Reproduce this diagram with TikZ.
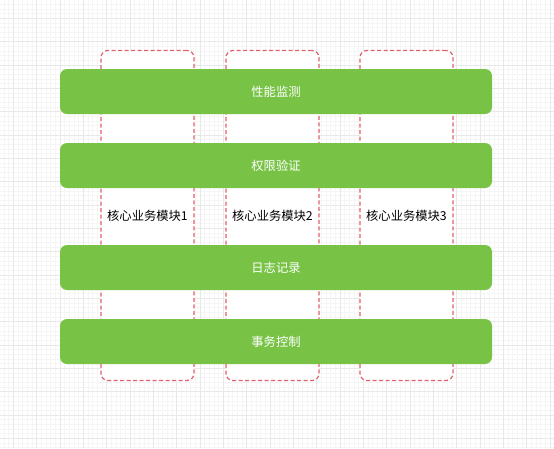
\documentclass[tikz,border=0pt]{standalone}
\usepackage{fontspec}
\newfontfamily\cjk{Noto Sans CJK SC}
\usetikzlibrary{positioning}
\definecolor{bargreen}{HTML}{78C346}
\definecolor{modred}{HTML}{E0606E}
\definecolor{gridminor}{HTML}{F5F5F5}
\definecolor{gridmajor}{HTML}{E8E8E8}

\begin{document}
\begin{tikzpicture}[x=1pt, y=-1pt,
    every node/.style={font=\cjk\fontsize{12.3}{14}\selectfont},
    bar/.style={fill=bargreen, rounded corners=7pt, minimum width=432pt,
      minimum height=45pt, inner sep=0pt, text=white},
    module/.style={draw=modred, fill=white, dash pattern=on 4pt off 2.5pt,
      line width=1.2pt, rounded corners=7pt, minimum width=93pt,
      minimum height=330pt, inner sep=0pt}]
    \useasboundingbox (0,0) rectangle (554,448);
    \fill[white] (0,0) rectangle (554,448);
    % grid
    \foreach \i in {0,...,118}{
      \draw[gridminor, line width=0.5pt] ({4+\i*4.6667},0) -- ++(0,448);
      \draw[gridminor, line width=0.5pt] (0,{4.3+\i*4.6667}) -- ++(554,0);
    }
    \foreach \i in {-1,...,23}{
      \draw[gridmajor, line width=0.6pt] ({13.33+\i*23.333},0) -- ++(0,448);
      \draw[gridmajor, line width=0.6pt] (0,{18.3+\i*23.333}) -- ++(554,0);
    }
    % modules
    \foreach \n/\x in {1/147.5, 2/272.5, 3/406.5}{
      \node[module] (col\n) at (\x,215.5) {};
      \node (lab\n) at (col\n) {核心业务模块\n};
    }
    % aspects
    \node[bar] (perf) at (276,91.5) {性能监测};
    \node[bar] (auth) at (276,165.5) {权限验证};
    \node[bar] (log) at (276,267.5) {日志记录};
    \node[bar] (tx) at (276,341.5) {事务控制};
  \end{tikzpicture}
\end{document}
